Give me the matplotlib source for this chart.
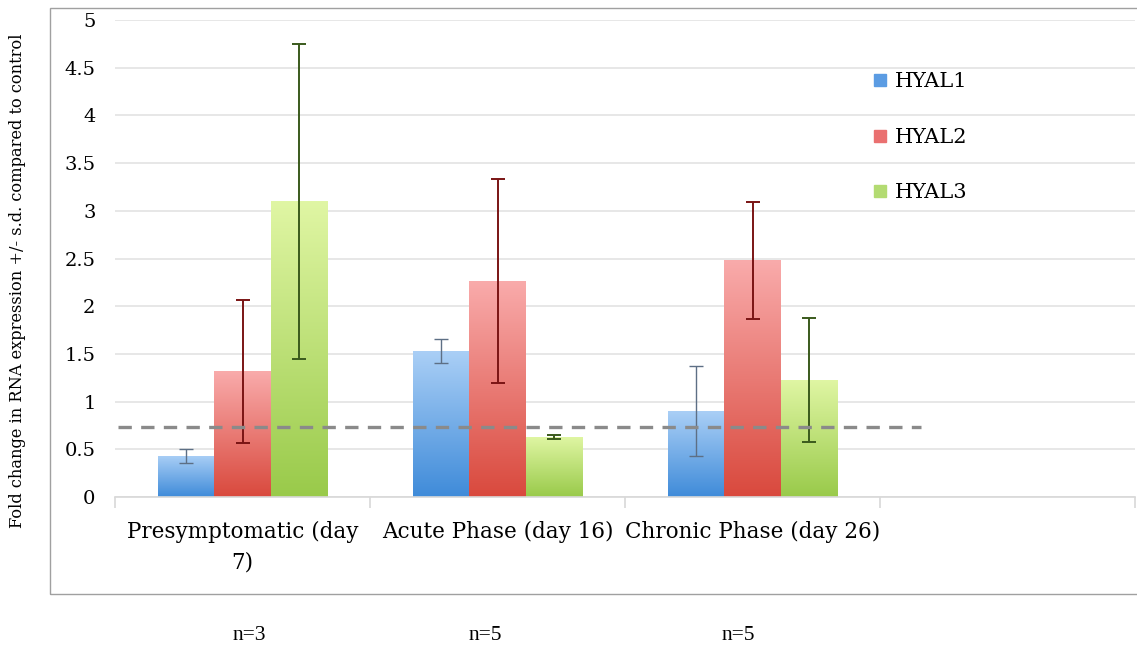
import numpy as np
import matplotlib
matplotlib.use("Agg")
import matplotlib.pyplot as plt
from matplotlib.colors import LinearSegmentedColormap
from matplotlib.patches import Rectangle
from matplotlib.lines import Line2D

categories = ["Presymptomatic (day\n7)", "Acute Phase (day 16)", "Chronic Phase (day 26)", ""]
series = ["HYAL1", "HYAL2", "HYAL3"]
hyal1 = [0.43, 1.53, 0.90]
hyal2 = [1.32, 2.26, 2.48]
hyal3 = [3.10, 0.63, 1.23]
hyal1_sd = [0.07, 0.125, 0.47]
hyal2_sd = [0.75, 1.07, 0.61]
hyal3_sd = [1.65, 0.02, 0.65]
n_labels = ["n=3", "n=5", "n=5"]
control_level = 0.73
yticks = [0, 0.5, 1, 1.5, 2, 2.5, 3, 3.5, 4, 4.5, 5]

values = [hyal1, hyal2, hyal3]
sds = [hyal1_sd, hyal2_sd, hyal3_sd]
grad = [("#3f8bd9", "#aacff6"), ("#d9493d", "#f9abab"), ("#99ca4a", "#e0f6a4")]
legend_col = ["#5b9ce3", "#ea7070", "#b3db72"]
err_col = ["#5d6f85", "#7a1414", "#3a5a1c"]
err_lw = [1.0, 1.4, 1.4]

plt.rcParams['font.family'] = ['DejaVu Serif']
fig = plt.figure(figsize=(11.37, 6.46), dpi=100)
# outer chart border
fig.patches.append(Rectangle((50/1137, 1-594/646), 1.2, 586/646, transform=fig.transFigure,
                             fill=False, edgecolor="#a0a0a0", lw=1.0, zorder=0))
ax = fig.add_axes([115/1137, 1-497/646, 1020/1137, 477/646])

ncat = 4
x = np.arange(ncat)
bw = 0.222
offsets = [-bw, 0, bw]
for i in range(3):
    xs = x[:3] + offsets[i]
    bars = ax.bar(xs, values[i], width=bw, color="none", edgecolor="none", zorder=2)
    cmap = LinearSegmentedColormap.from_list("g%d" % i, [grad[i][0], grad[i][1]])
    g = np.linspace(0, 1, 256).reshape(-1, 1)
    for b in bars:
        x0, w, h = b.get_x(), b.get_width(), b.get_height()
        im = ax.imshow(g, cmap=cmap, origin="lower", extent=(x0, x0 + w, 0, h),
                       aspect="auto", zorder=2)
        im.set_clip_path(b)
    ax.errorbar(xs, values[i], yerr=sds[i], fmt="none", ecolor=err_col[i],
                elinewidth=err_lw[i], capsize=5, capthick=err_lw[i], zorder=4)

ax.hlines(control_level, -0.49, 2.66, colors="#8a8a8a", linestyles=(0, (4, 2.8)),
          lw=2.4, zorder=5)

ax.set_xlim(-0.5, 3.5)
ax.set_ylim(0, 5)
ax.set_yticks(yticks)
ax.set_yticklabels([("%g" % v) for v in yticks], fontsize=14)
ax.tick_params(axis="y", length=0, pad=14)
ax.yaxis.grid(True, color="#e3e3e3", lw=1.2, zorder=0)
ax.set_axisbelow(True)
for s in ["left", "right", "top"]:
    ax.spines[s].set_visible(False)
ax.spines["bottom"].set_color("#d8d8d8")
ax.spines["bottom"].set_linewidth(1.2)

ax.set_xticks(np.arange(-0.5, ncat, 1.0))
ax.set_xticklabels([])
ax.tick_params(axis="x", direction="out", length=8, color="#d8d8d8", width=1.2)
ax.set_xticks(x, minor=True)
ax.set_xticklabels(categories, minor=True, fontsize=15.5, linespacing=1.5)
ax.tick_params(axis="x", which="minor", length=0, pad=17)

# legend
handles = [Line2D([], [], marker="s", ls="none", markersize=9, color=c) for c in legend_col]
fig.legend(handles, series, loc="upper left", bbox_to_anchor=(859/1137, 1-62/646),
           frameon=False, fontsize=15, labelspacing=1.75, handletextpad=0.2,
           handlelength=1.0, borderpad=0)

fig.text(18/1137, 1-281/646, "Fold change in RNA expression +/- s.d. compared to control",
         rotation=90, ha="center", va="center", fontsize=11.7)

n_x = [249, 485, 738]
for nx, lab in zip(n_x, n_labels):
    fig.text(nx/1137, 1-636/646, lab, ha="center", va="center", fontsize=15.5,
             family="Liberation Serif")

fig.savefig("out.png", dpi=100)
